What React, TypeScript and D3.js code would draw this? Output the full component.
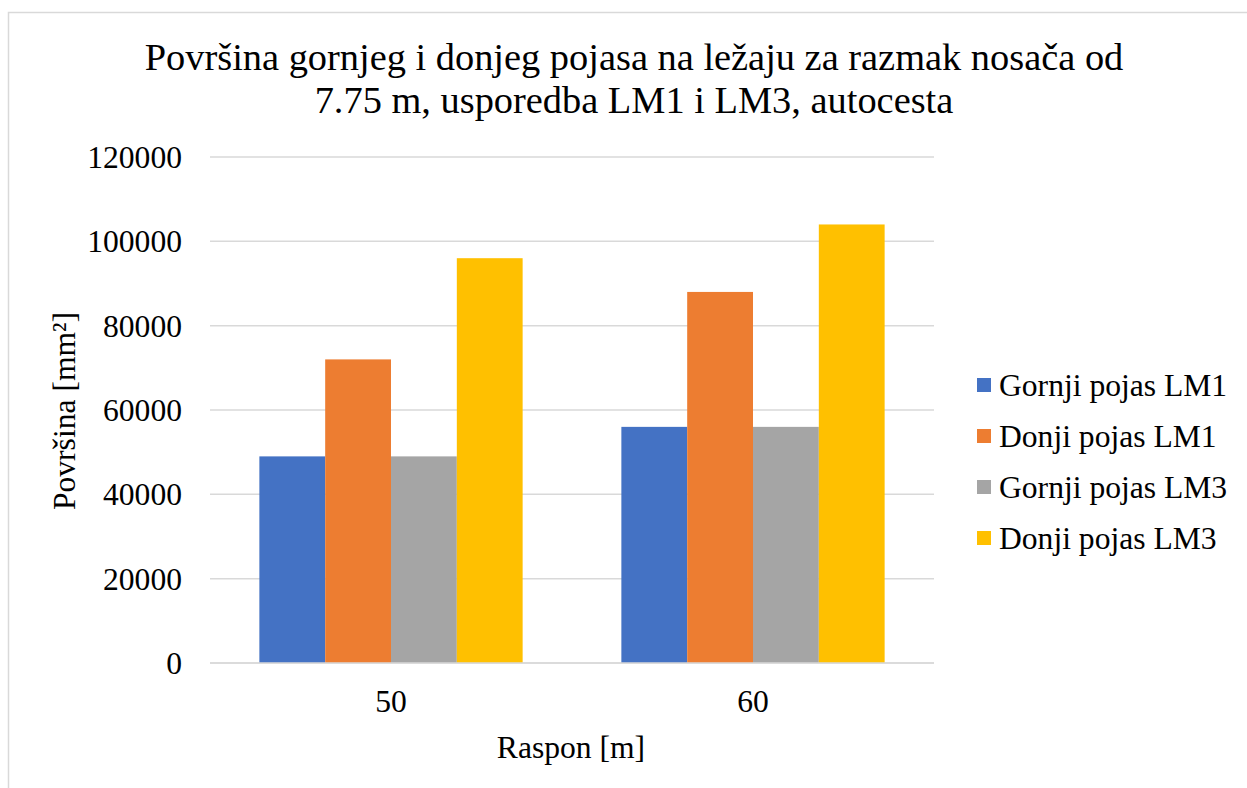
import React from "react";
import * as d3 from "d3";

const categories = ["50", "60"];
const seriesNames = ["Gornji pojas LM1", "Donji pojas LM1", "Gornji pojas LM3", "Donji pojas LM3"];
const seriesColors = ["#4472C4", "#ED7D31", "#A5A5A5", "#FFC000"];
const seriesValues = [
  [49000, 56000],
  [72000, 88000],
  [49000, 56000],
  [96000, 104000],
];
const yTicks = [0, 20000, 40000, 60000, 80000, 100000, 120000];
const titleLines = [
  "Površina gornjeg i donjeg pojasa na ležaju za razmak nosača od",
  "7.75 m, usporedba LM1 i LM3, autocesta",
];

const W = 1247;
const H = 788;
const plot = { left: 210, right: 934, top: 157, bottom: 663 };
const ff = { fontFamily: "Liberation Serif" };

export default function App() {
  const y = d3.scaleLinear().domain([0, 120000]).range([plot.bottom, plot.top]);
  const x0 = d3.scaleBand().domain(categories).range([plot.left, plot.right]).paddingInner(0).paddingOuter(0);
  const bw = x0.bandwidth();
  const groupW = (bw * 4) / 5.5;
  const x1 = d3
    .scaleBand()
    .domain(seriesNames)
    .range([(bw - groupW) / 2, (bw + groupW) / 2])
    .padding(0);

  return (
    <svg width={W} height={H} style={{ position: "absolute", left: 0, top: 0, background: "#fff" }}>
      <rect x={8.5} y={12.5} width={1300} height={900} fill="#fff" stroke="#d9d9d9" strokeWidth={1.5} />
      {titleLines.map((t, i) => (
        <text key={i} x={634} y={70 + i * 43} textAnchor="middle" fontSize={38.4} fill="#000" style={ff}>
          {t}
        </text>
      ))}
      {yTicks.map((t) => (
        <g key={t}>
          <line x1={plot.left} x2={plot.right} y1={y(t)} y2={y(t)} stroke="#d9d9d9" strokeWidth={1.5} />
          <text x={182} y={y(t)} dy="0.35em" textAnchor="end" fontSize={31.6} fill="#000" style={ff}>
            {t}
          </text>
        </g>
      ))}
      {categories.map((c, ci) => (
        <g key={c} transform={`translate(${x0(c)},0)`}>
          {seriesNames.map((s, si) => (
            <rect
              key={s}
              x={x1(s)}
              y={y(seriesValues[si][ci])}
              width={x1.bandwidth()}
              height={plot.bottom - y(seriesValues[si][ci])}
              fill={seriesColors[si]}
            />
          ))}
          <text x={bw / 2} y={712} textAnchor="middle" fontSize={31.6} fill="#000" style={ff}>
            {c}
          </text>
        </g>
      ))}
      <line x1={plot.left} x2={plot.right} y1={plot.bottom} y2={plot.bottom} stroke="#d9d9d9" strokeWidth={1.5} />
      <text x={571} y={758} textAnchor="middle" fontSize={31.6} fill="#000" style={ff}>
        Raspon [m]
      </text>
      <text transform="translate(75,411) rotate(-90)" textAnchor="middle" fontSize={31.6} fill="#000" style={ff}>
        Površina [mm²]
      </text>
      {seriesNames.map((s, i) => (
        <g key={s} transform={`translate(977,${385 + i * 51})`}>
          <rect x={0} y={-7} width={14} height={14} fill={seriesColors[i]} />
          <text x={22} y={0} dy="0.35em" fontSize={31.6} fill="#000" style={ff}>
            {s}
          </text>
        </g>
      ))}
    </svg>
  );
}
